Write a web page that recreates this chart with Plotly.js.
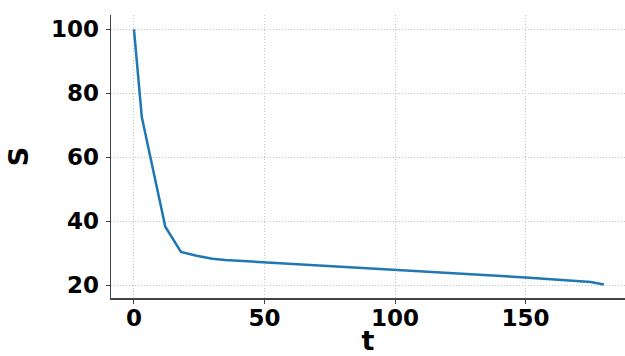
<!DOCTYPE html>
<html>
<head>
<meta charset="utf-8">
<script src="https://cdn.plot.ly/plotly-3.0.1.min.js"></script>
<style>html,body{margin:0;padding:0;background:#fff;}#chart{width:625px;height:356px;}</style>
</head>
<body>
<div id="chart"></div>
<script>
const tValues = [0, 3, 12, 18, 24, 30, 35, 50, 75, 100, 125, 150, 175, 180];
const sValues = [100, 72.6, 38.3, 30.4, 29.2, 28.3, 27.9, 27.2, 26.0, 24.9, 23.6, 22.4, 21.0, 20.2];
const xTicks = [0, 50, 100, 150];
const yTicks = [20, 40, 60, 80, 100];

const font = {family: "DejaVu Sans, sans-serif", size: 23, color: "#000", weight: "bold"};
const titleFont = {family: "DejaVu Sans, sans-serif", size: 27, color: "#000", weight: "bold"};

Plotly.newPlot("chart", [{
  x: tValues, y: sValues, type: "scatter", mode: "lines",
  line: {color: "#1f77b4", width: 2.5}
}], {
  width: 625, height: 356,
  margin: {l: 111, r: 0, t: 15, b: 58},
  paper_bgcolor: "#fff", plot_bgcolor: "#fff",
  showlegend: false,
  xaxis: {
    range: [-8.8, 188.1], tickvals: xTicks, ticktext: xTicks.map(String),
    showgrid: true, gridcolor: "#c4c4c4", griddash: "1px,2px", gridwidth: 1,
    zeroline: false, showline: true, linecolor: "#444", linewidth: 1.5,
    ticks: "outside", ticklen: 4, tickcolor: "#444", tickwidth: 1,
    tickfont: font, ticklabelstandoff: -5,
    title: {text: "t", font: titleFont, standoff: 4}
  },
  yaxis: {
    range: [16, 104.5], tickvals: yTicks, ticktext: yTicks.map(String),
    showgrid: true, gridcolor: "#c4c4c4", griddash: "1px,2px", gridwidth: 1,
    zeroline: false, showline: true, linecolor: "#444", linewidth: 1.5,
    ticks: "outside", ticklen: 4, tickcolor: "#444", tickwidth: 1,
    tickfont: font, ticklabelstandoff: 2,
    title: {text: "S", font: titleFont, standoff: 14}
  }
}, {displayModeBar: false, staticPlot: true});
</script>
</body>
</html>
